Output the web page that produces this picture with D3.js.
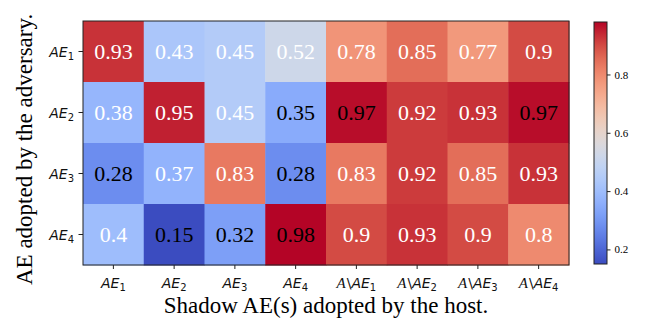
<!DOCTYPE html>
<html>
<head>
<meta charset="utf-8">
<script src="https://cdn.jsdelivr.net/npm/d3@7"></script>
<style>
  body { margin: 0; background: #fff; }
  .cell-label { font-family: "Liberation Serif", "Times New Roman", serif; font-size: 22px; }
  .tick-math { font-family: "DejaVu Sans", sans-serif; font-size: 14px; }
  .axis-title { font-family: "Liberation Serif", "Times New Roman", serif; font-size: 23px; }
  .cbar text { font-family: "Liberation Serif", serif; font-size: 11px; }
</style>
</head>
<body>
<script>
// Row / column categories
var rowLabels = ["1", "2", "3", "4"];           // AE_i adopted by the adversary
var colLabels = ["1", "2", "3", "4", "A1", "A2", "A3", "A4"]; // shadow AE(s)

// Heatmap values, one array per row
var rowAE1 = [0.93, 0.43, 0.45, 0.52, 0.78, 0.85, 0.77, 0.9];
var rowAE2 = [0.38, 0.95, 0.45, 0.35, 0.97, 0.92, 0.93, 0.97];
var rowAE3 = [0.28, 0.37, 0.83, 0.28, 0.83, 0.92, 0.85, 0.93];
var rowAE4 = [0.4, 0.15, 0.32, 0.98, 0.9, 0.93, 0.9, 0.8];

// cells whose annotation is printed in black in the original
var darkText = [[2, 4], [2, 5], [2, 8], [3, 1], [3, 4], [4, 2], [4, 3], [4, 4]];

var colorbarTicks = [0.2, 0.4, 0.6, 0.8];

var svgWidth = 648;
var svgHeight = 325;

var margin = { top: 21, left: 83 };
var chartWidth = 486;
var chartHeight = 244;

var svg = d3.select("body")
  .append("svg")
  .attr("width", svgWidth)
  .attr("height", svgHeight);

var chartGroup = svg.append("g")
  .attr("transform", `translate(${margin.left}, ${margin.top})`);

// Build the cell table from the row arrays
var rows = [rowAE1, rowAE2, rowAE3, rowAE4];
var cells = [];
rows.forEach(function(vals, i) {
  vals.forEach(function(v, j) {
    cells.push({ row: rowLabels[i], col: colLabels[j], value: v, ri: i + 1, ci: j + 1 });
  });
});

var allValues = cells.map(d => d.value);

// matplotlib "coolwarm" sampled at 11 points
var coolwarm = d3.interpolateRgbBasis(["#3b4cc0", "#5977e3", "#7b9ff9", "#9ebeff", "#c0d4f5",
  "#dddcdc", "#f2cbb7", "#f7ac8e", "#ee8468", "#d65244", "#b40426"]);

var colorScale = d3.scaleSequential(coolwarm)
  .domain(d3.extent(allValues));

var xBandScale = d3.scaleBand()
  .domain(colLabels)
  .range([0, chartWidth]);

var yBandScale = d3.scaleBand()
  .domain(rowLabels)
  .range([0, chartHeight]);

// Cells
chartGroup.selectAll("rect.cell")
  .data(cells)
  .enter()
  .append("rect")
  .attr("x", d => xBandScale(d.col))
  .attr("y", d => yBandScale(d.row))
  .attr("width", xBandScale.bandwidth() + 0.5)
  .attr("height", yBandScale.bandwidth() + 0.5)
  .attr("fill", d => colorScale(d.value));

// Annotations
chartGroup.selectAll("text.cell-label")
  .data(cells)
  .enter()
  .append("text")
  .classed("cell-label", true)
  .attr("x", d => xBandScale(d.col) + xBandScale.bandwidth() / 2)
  .attr("y", d => yBandScale(d.row) + yBandScale.bandwidth() / 2)
  .attr("text-anchor", "middle")
  .attr("dominant-baseline", "central")
  .attr("fill", d => darkText.some(p => p[0] === d.ri && p[1] === d.ci) ? "#000" : "#fff")
  .text(d => String(d.value));

// Frame
chartGroup.append("rect")
  .attr("width", chartWidth)
  .attr("height", chartHeight)
  .attr("fill", "none")
  .attr("stroke", "#222")
  .attr("stroke-width", 1);

// Math-style tick label: AE_n or A\AE_n
function mathLabel(sel, key) {
  sel.text(null);
  var n = key.replace("A", "");
  if (key.charAt(0) === "A") {
    sel.append("tspan")
      .style("font-family", "Liberation Serif, serif")
      .style("font-style", "italic")
      .attr("font-size", "15px")
      .text("A");
    sel.append("tspan").attr("dx", "1").text("\\");
  }
  sel.append("tspan").style("font-style", "italic").text("AE");
  sel.append("tspan").attr("font-size", "10px").attr("dy", "3").text(n);
}

// Axes
var bottomAxis = d3.axisBottom(xBandScale).tickSize(4).tickPadding(9);
var leftAxis = d3.axisLeft(yBandScale).tickSize(4.5).tickPadding(4.5);

var xAxisG = chartGroup.append("g")
  .attr("transform", "translate(0, " + chartHeight + ")")
  .call(bottomAxis);
var yAxisG = chartGroup.append("g")
  .call(leftAxis);

[xAxisG, yAxisG].forEach(function(g) {
  g.select(".domain").remove();
  g.selectAll(".tick line").attr("stroke", "#222");
  g.selectAll(".tick text")
    .attr("class", "tick-math")
    .attr("fill", "#111")
    .each(function(d) { mathLabel(d3.select(this), d); });
});
yAxisG.selectAll(".tick text").attr("dy", "0.38em");

// Axis titles
svg.append("text")
  .classed("axis-title", true)
  .attr("x", margin.left + chartWidth / 2)
  .attr("y", 313)
  .attr("text-anchor", "middle")
  .text("Shadow AE(s) adopted by the host.");

svg.append("text")
  .classed("axis-title", true)
  .attr("transform", "translate(32, 285) rotate(-90)")
  .attr("text-anchor", "start")
  .text("AE adopted by the adversary.");

// Colorbar
var cbX = 594, cbTop = 22, cbW = 13, cbH = 242;
var cbScale = d3.scaleLinear()
  .domain(colorScale.domain())
  .range([cbTop + cbH, cbTop]);

var defs = svg.append("defs");
var grad = defs.append("linearGradient")
  .attr("id", "cbGrad")
  .attr("x1", 0).attr("y1", 1).attr("x2", 0).attr("y2", 0);
d3.range(0, 1.0001, 0.05).forEach(function(t) {
  grad.append("stop")
    .attr("offset", t)
    .attr("stop-color", coolwarm(t));
});

svg.append("rect")
  .attr("x", cbX)
  .attr("y", cbTop)
  .attr("width", cbW)
  .attr("height", cbH)
  .attr("fill", "url(#cbGrad)")
  .attr("stroke", "#222")
  .attr("stroke-width", 1);

var cbAxis = d3.axisRight(cbScale)
  .tickValues(colorbarTicks)
  .tickSize(3.5)
  .tickPadding(4)
  .tickFormat(d3.format(".1f"));

svg.append("g")
  .classed("cbar", true)
  .attr("transform", `translate(${cbX + cbW}, 0)`)
  .call(cbAxis)
  .call(g => g.select(".domain").remove())
  .call(g => g.selectAll(".tick line").attr("stroke", "#222"));
</script>
</body>
</html>
